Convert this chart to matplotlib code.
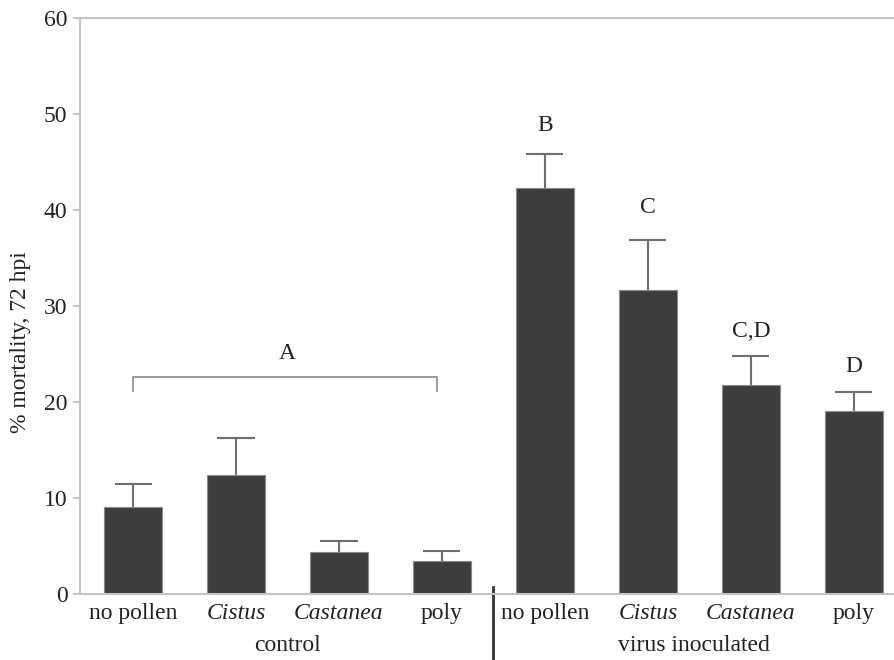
import numpy as np
import matplotlib
matplotlib.use('Agg')
import matplotlib.pyplot as plt

plt.rcParams['font.family'] = ['Liberation Serif', 'DejaVu Serif']

# data
categories = ['no pollen', 'Cistus', 'Castanea', 'poly',
              'no pollen', 'Cistus', 'Castanea', 'poly']
italic = [False, True, True, False, False, True, True, False]
mortality = [9.1, 12.4, 4.4, 3.4, 42.3, 31.7, 21.8, 19.1]
err_up = [2.4, 3.9, 1.1, 1.1, 3.5, 5.2, 3.0, 1.9]
letters = ['B', 'C', 'C,D', 'D']
letter_y = [48.8, 40.3, 27.3, 23.7]
groups = ['control', 'virus inoculated']

fig = plt.figure(figsize=(8.95, 6.6), dpi=100)
ax = fig.add_axes([0.0894, 0.1, 0.9106, 0.8727])

x = np.arange(len(categories))
mortality = np.array(mortality)
tops = mortality + np.array(err_up)
ax.bar(x, mortality, width=0.563, color='#3d3d3f', edgecolor='#8a8a8a',
       linewidth=0.8, zorder=2)
# upward-only error bars
ax.vlines(x, mortality, tops, color='#6e6e6e', lw=1.5, zorder=1)
ax.hlines(tops, x - 0.18, x + 0.18, color='#6e6e6e', lw=1.5, zorder=1)

# significance letters
for i, (lab, ly) in enumerate(zip(letters, letter_y)):
    ax.text(4 + i, ly, lab, ha='center', va='center', fontsize=17,
            color='#222222')

# bracket over control group
ax.plot([0, 0, 2.95, 2.95], [21.1, 22.6, 22.6, 21.1], color='#8a8a8a',
        lw=1.2)
ax.text(1.5, 25.1, 'A', ha='center', va='center', fontsize=17,
        color='#222222')

ax.set_xlim(-0.515, 7.40)
ax.set_ylim(0, 60)
ax.set_yticks(np.arange(0, 61, 10))
ax.tick_params(axis='y', labelsize=17, colors='#bbbbbb', labelcolor='#222222',
               length=5, width=1.2, pad=4)
ax.set_xticks([])

for s in ['left', 'top', 'bottom']:
    ax.spines[s].set_color('#c4c4c4')
    ax.spines[s].set_linewidth(1.5)
ax.spines['right'].set_visible(False)

# category labels
for xi, lab, it in zip(x, categories, italic):
    ax.text(xi, -2.0, lab, ha='center', va='center', fontsize=17,
            style='italic' if it else 'normal', color='#222222')
ax.text(1.5, -5.4, groups[0], ha='center', va='center', fontsize=17,
        color='#222222')
ax.text(5.45, -5.4, groups[1], ha='center', va='center', fontsize=17,
        color='#222222')

# divider between groups
ax.plot([3.5, 3.5], [0.7, -7.0], color='#333333', lw=2, clip_on=False)

fig.text(0.023, 0.482, '% mortality, 72 hpi', rotation=90, ha='center',
         va='center', fontsize=17, color='#222222')

fig.savefig('out.png', dpi=100)
